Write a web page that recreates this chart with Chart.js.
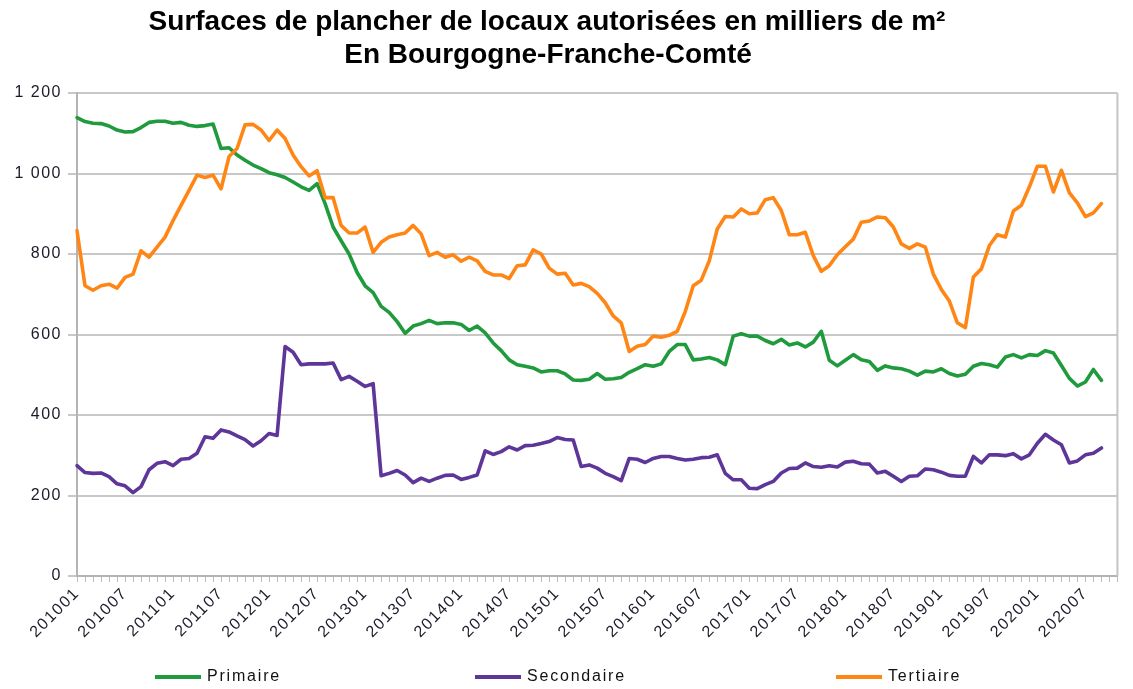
<!DOCTYPE html>
<html>
<head>
<meta charset="utf-8">
<script src="https://cdn.jsdelivr.net/npm/chart.js@4/dist/chart.umd.min.js"></script>
<style>
html,body{margin:0;padding:0;background:#fff;}
#wrap{width:1133px;height:689px;position:relative;}
canvas{display:block;}
</style>
</head>
<body>
<div id="wrap"><canvas id="c" width="1133" height="689"></canvas></div>
<script>
// ---- DATA ----
const titleLines = ['Surfaces de plancher de locaux autorisées en milliers de m²', 'En Bourgogne-Franche-Comté'];
const seriesNames = ['Primaire', 'Secondaire', 'Tertiaire'];
const years = ['2010','2011','2012','2013','2014','2015','2016','2017','2018','2019','2020'];
const monthCodes = ['01','02','03','04','05','06','07','08','09','10','11','12'];
const yTickLabels = ['0', '200', '400', '600', '800', '1 000', '1 200'];

const primaire = [1139,1129,1125,1124,1118,1108,1103,1104,1114,1127,1130,1130,
 1125,1127,1120,1117,1119,1123,1062,1064,1046,1033,1021,1012,
 1002,997,990,979,967,958,975,925,867,833,800,754,
 721,704,670,655,632,603,621,627,635,627,629,629,
 625,610,621,604,579,560,537,525,521,517,507,510,
 510,502,487,486,489,503,489,490,493,506,515,525,
 521,527,558,575,575,537,539,543,537,525,596,602,
 596,596,585,577,588,574,579,569,581,608,536,522,
 536,550,537,533,511,522,517,515,509,499,509,507,
 515,503,497,501,521,528,525,519,544,550,542,550,
 548,560,554,523,491,472,482,513,486];

const secondaire = [274,257,255,256,247,229,224,207,222,264,280,284,
 274,290,292,305,346,342,363,358,348,339,323,336,
 354,349,570,556,525,527,527,527,529,488,496,484,
 471,478,249,255,262,251,232,243,235,243,250,251,
 240,245,251,311,302,309,321,313,324,325,329,334,
 344,339,338,272,276,268,255,247,237,292,290,282,
 292,297,297,292,288,290,294,295,301,255,239,239,
 218,217,227,235,256,267,268,281,272,270,274,271,
 283,285,279,278,256,260,248,235,248,249,266,264,
 258,250,248,248,297,281,301,301,299,304,291,301,
 330,352,338,326,281,286,301,305,318];

const tertiaire = [858,721,710,721,725,715,742,750,808,792,817,842,
 883,921,958,996,990,996,962,1042,1062,1121,1122,1108,
 1082,1108,1087,1046,1017,994,1007,940,940,871,852,852,
 867,804,829,842,848,852,871,850,796,804,792,798,
 782,792,783,757,748,748,739,771,773,810,800,765,
 750,752,723,727,719,702,679,646,629,558,571,575,
 596,593,598,608,657,721,735,783,862,893,892,912,
 900,902,935,940,908,848,848,854,796,757,771,798,
 818,837,879,882,892,890,867,825,814,825,817,750,
 712,683,629,617,743,763,821,848,842,907,921,967,
 1018,1018,954,1008,952,927,893,902,925];

// categories: monthly, 2010-01 .. 2020-11 (axis runs two months past the last value)
const categories = [];
years.forEach(y => monthCodes.forEach(m => { if (!(y === '2020' && m === '12')) categories.push(y + m); }));

// ---- STYLE ----
const colors = ['#1f9a3c', '#5e3598', '#ff8614'];
const FONT = '"Liberation Sans", Arial, sans-serif';

const titlePlugin = {
  id: 'excelTitle',
  afterDraw(chart) {
    const ctx = chart.ctx;
    ctx.save();
    ctx.letterSpacing = '0px';
    ctx.fillStyle = '#000';
    ctx.font = 'bold 28px ' + FONT;
    ctx.textAlign = 'center';
    ctx.textBaseline = 'alphabetic';
    ctx.fillText(titleLines[0], 547, 30);
    ctx.fillText(titleLines[1], 548, 63);
    ctx.restore();
  }
};

const legendPlugin = {
  id: 'excelLegend',
  afterDraw(chart) {
    const ctx = chart.ctx;
    const xs = [155, 475, 836];
    const y = 677;
    ctx.save();
    ctx.letterSpacing = '1.8px';
    ctx.font = '16px ' + FONT;
    ctx.textBaseline = 'middle';
    ctx.textAlign = 'left';
    chart.data.datasets.forEach((ds, i) => {
      ctx.strokeStyle = ds.borderColor;
      ctx.lineWidth = 4;
      ctx.beginPath();
      ctx.moveTo(xs[i], y);
      ctx.lineTo(xs[i] + 46, y);
      ctx.stroke();
      ctx.fillStyle = '#111';
      ctx.fillText(ds.label, xs[i] + 52, y);
    });
    ctx.restore();
  }
};

const borderPlugin = {
  id: 'plotBorder',
  beforeDraw(chart) {
    chart.ctx.letterSpacing = '1.5px';
  },
  beforeDatasetsDraw(chart) {
    const a = chart.chartArea, ctx = chart.ctx;
    ctx.save();
    ctx.strokeStyle = '#c4c4c4';
    ctx.lineWidth = 2;
    ctx.beginPath();
    ctx.moveTo(a.right, a.top);
    ctx.lineTo(a.right, a.bottom);
    ctx.stroke();
    ctx.restore();
  }
};

new Chart(document.getElementById('c'), {
  type: 'line',
  data: {
    labels: categories,
    datasets: [
      { label: seriesNames[0], data: primaire, borderColor: colors[0], backgroundColor: colors[0], order: 3 },
      { label: seriesNames[1], data: secondaire, borderColor: colors[1], backgroundColor: colors[1], order: 2 },
      { label: seriesNames[2], data: tertiaire, borderColor: colors[2], backgroundColor: colors[2], order: 1 }
    ]
  },
  options: {
    responsive: false,
    animation: false,
    devicePixelRatio: 1,
    layout: { padding: { top: 93, right: 12, bottom: 0, left: 0 } },
    plugins: { legend: { display: false }, title: { display: false }, tooltip: { enabled: false } },
    elements: {
      point: { radius: 0, hoverRadius: 0 },
      line: { borderWidth: 3.6, tension: 0, borderJoinStyle: 'round', borderCapStyle: 'round' }
    },
    scales: {
      x: {
        type: 'category',
        offset: false,
        grid: { display: true, drawOnChartArea: false, drawTicks: true, tickLength: 6, color: '#bdbdbd', lineWidth: 1 },
        border: { display: true, color: '#b4b4b4', width: 2 },
        ticks: {
          autoSkip: false, maxRotation: 45, minRotation: 45, padding: 2,
          color: '#1b1b2a', font: { family: FONT, size: 16 },
          callback: (v, i) => (i % 6 === 0 ? categories[i] : '')
        },
        afterFit: s => { s.height = 113; }
      },
      y: {
        min: 0, max: 1200,
        grid: { color: '#c8c8c8', lineWidth: 2, drawTicks: true, tickLength: 9 },
        border: { display: true, color: '#b4b4b4', width: 2 },
        ticks: {
          stepSize: 200, padding: 6, color: '#1b1b2a', font: { family: FONT, size: 16 },
          callback: (v, i) => yTickLabels[i]
        },
        afterFit: s => { s.width = 77; }
      }
    }
  },
  plugins: [borderPlugin, titlePlugin, legendPlugin]
});
</script>
</body>
</html>
